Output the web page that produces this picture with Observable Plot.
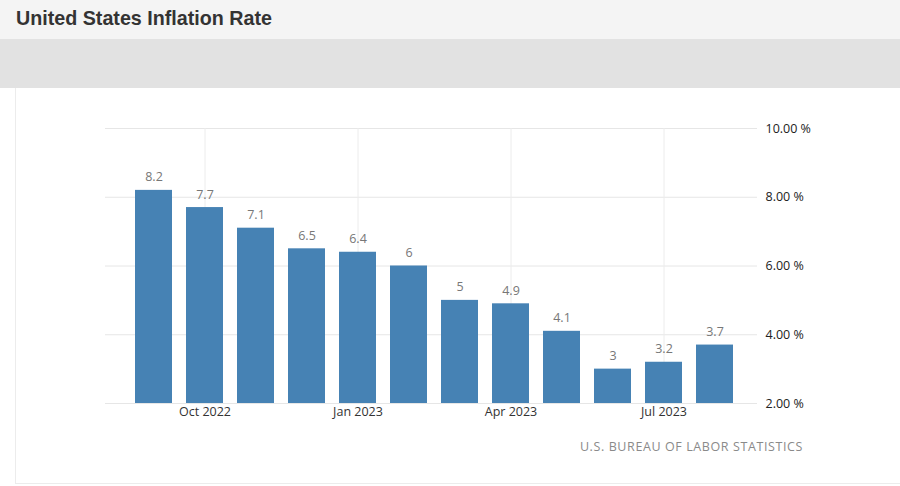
<!DOCTYPE html>
<html><head><meta charset="utf-8">
<script src="https://cdn.jsdelivr.net/npm/d3@7"></script>
<script src="https://cdn.jsdelivr.net/npm/@observablehq/plot@0.6"></script>
<style>
html,body{margin:0;padding:0;width:900px;height:486px;overflow:hidden;background:#fff;font-family:"Open Sans",sans-serif;}
#head{position:absolute;left:0;top:0;width:900px;height:39px;background:#f4f4f4;}
#title{position:absolute;left:16px;top:7px;font-family:"Liberation Sans",Arial,sans-serif;font-weight:bold;font-size:19.7px;color:#333;}
#band{position:absolute;left:0;top:39px;width:900px;height:49px;background:#e2e2e2;}
#panel{position:absolute;left:15px;top:88px;width:885px;height:395px;border-left:1px solid #ececec;border-bottom:1px solid #ececec;}
#chart{position:absolute;left:0;top:88px;}
#caption{position:absolute;right:97px;top:438px;font-size:12.5px;letter-spacing:0.6px;color:#8a8a8a;}
</style></head>
<body>
<div id="head"><div id="title">United States Inflation Rate</div></div>
<div id="band"></div>
<div id="panel"></div>
<div id="chart"></div>
<div id="caption">U.S. BUREAU OF LABOR STATISTICS</div>
<script>
const months = ["2022-09","2022-10","2022-11","2022-12","2023-01","2023-02","2023-03","2023-04","2023-05","2023-06","2023-07","2023-08"];
const values = [8.2,7.7,7.1,6.5,6.4,6,5,4.9,4.1,3,3.2,3.7];
const tickMonths = ["2022-10","2023-01","2023-04","2023-07"];
const tickLabels = ["Oct 2022","Jan 2023","Apr 2023","Jul 2023"];
const yTicks = [2,4,6,8,10];

const data = months.map((m,i)=>({m, v: values[i]}));
const labelOf = new Map(tickMonths.map((m,i)=>[m,tickLabels[i]]));

const plot = Plot.plot({
  width: 900,
  height: 395,
  marginTop: 40,
  marginBottom: 80,
  marginLeft: 105,
  marginRight: 143,
  style: {fontFamily: '"Open Sans", sans-serif', fontSize: "12px", background: "transparent"},
  x: {type: "band", domain: months, range: [133.3, 734.7], paddingInner: 0.27, paddingOuter: 0, axis: null, label: null},
  y: {domain: [2,10], axis: null, label: null},
  marks: [
    Plot.ruleY(yTicks, {stroke: "#e6e6e6", strokeWidth: 1}),
    Plot.ruleX(tickMonths, {x: d=>d, y1: 2, y2: 10, stroke: "#ececec", strokeWidth: 1}),
    Plot.barY(data, {x: "m", y1: 2, y2: "v", fill: "#4682b4"}),
    Plot.text(data, {x: "m", y: "v", text: d=>String(d.v), dy: -13, fill: "#777", fontSize: 12.5}),
    Plot.axisX({ticks: tickMonths, tickFormat: d=>labelOf.get(d), tickSize: 0, tickPadding: 4, fill: "#333", fontSize: 12.5, anchor: "bottom", label: null}),
    Plot.axisY({ticks: yTicks, tickFormat: d=>d.toFixed(2)+" %", anchor: "right", tickSize: 0, tickPadding: 8, fill: "#222", fontSize: 12.5, label: null})
  ]
});
document.getElementById("chart").appendChild(plot);
</script>
</body></html>
